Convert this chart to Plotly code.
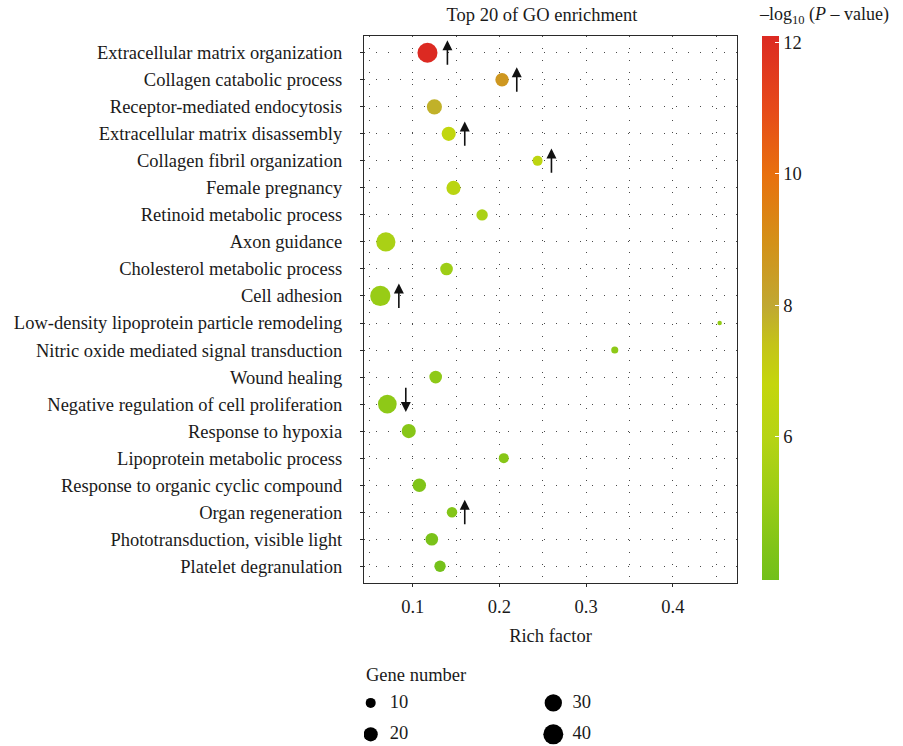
import math
import plotly.graph_objects as go

# ---------------- data ----------------
terms = [
    "Extracellular matrix organization",
    "Collagen catabolic process",
    "Receptor-mediated endocytosis",
    "Extracellular matrix disassembly",
    "Collagen fibril organization",
    "Female pregnancy",
    "Retinoid metabolic process",
    "Axon guidance",
    "Cholesterol metabolic process",
    "Cell adhesion",
    "Low-density lipoprotein particle remodeling",
    "Nitric oxide mediated signal transduction",
    "Wound healing",
    "Negative regulation of cell proliferation",
    "Response to hypoxia",
    "Lipoprotein metabolic process",
    "Response to organic cyclic compound",
    "Organ regeneration",
    "Phototransduction, visible light",
    "Platelet degranulation",
]
rich_factor = [0.117, 0.203, 0.125, 0.1415, 0.244, 0.147, 0.180, 0.069, 0.139, 0.0626,
               0.454, 0.333, 0.1265, 0.0707, 0.0954, 0.205, 0.1076, 0.1453, 0.122, 0.1315]
gene_number = [40, 18, 23, 20, 10, 20, 13, 37, 16, 41,
               2, 5, 16, 35, 20, 10, 18, 11, 16, 13]
neg_log10_p = [12.11, 8.7, 7.8, 6.6, 6.4, 6.2, 5.6, 5.6, 5.2, 5.0,
               4.8, 4.7, 4.7, 4.7, 4.5, 4.5, 4.3, 4.4, 4.1, 3.9]

arrow_terms = ["Extracellular matrix organization", "Collagen catabolic process",
               "Extracellular matrix disassembly", "Collagen fibril organization",
               "Cell adhesion", "Negative regulation of cell proliferation",
               "Organ regeneration"]
arrow_x = [0.14, 0.22, 0.16, 0.26, 0.084, 0.092, 0.16]
arrow_dir = ["up", "up", "up", "up", "up", "down", "up"]

legend_counts = [10, 20, 30, 40]
x_ticks = [0.1, 0.2, 0.3, 0.4]
cbar_ticks = [6, 8, 10, 12]

# ---------------- styling ----------------
FONT = "Liberation Serif"
FS = 18.5
TXT = "#1a1a1a"
W, H = 903, 746
ML, MR, MT, MB = 364, 166, 36, 0
plot_h = H - MT - MB
main_bottom_px = 583
ydom0 = (H - main_bottom_px) / plot_h

CMIN, CMAX = 3.82, 12.11
def t(v):
    return (v - CMIN) / (CMAX - CMIN)

colorscale = [
    [0.0, "#72c01a"],
    [t(4.3), "#80c418"],
    [t(5.0), "#98cc16"],
    [t(6.0), "#b6d414"],
    [t(6.8), "#c4d60c"],
    [t(7.4), "#c4c418"],
    [t(8.0), "#c0a832"],
    [t(9.0), "#d49018"],
    [t(10.0), "#e8700e"],
    [t(11.0), "#e64a1a"],
    [1.0, "#dc2a22"],
]

def diameter(n):
    return math.sqrt(10 * n)

ypos = {term: i for i, term in enumerate(terms)}

fig = go.Figure()

fig.add_trace(go.Scatter(
    x=rich_factor,
    y=[ypos[tm] for tm in terms],
    mode="markers",
    marker=dict(
        size=[diameter(n) for n in gene_number],
        sizemode="diameter",
        color=neg_log10_p,
        colorscale=colorscale,
        cmin=CMIN, cmax=CMAX,
        line=dict(width=0),
        opacity=1,
        colorbar=dict(
            xref="container", x=762 / W, xanchor="left",
            yref="container", y=1 - 37.3 / H, yanchor="top",
            len=544.4, lenmode="pixels",
            thickness=16.5, thicknessmode="pixels",
            xpad=0, ypad=0, outlinewidth=0,
            tickvals=cbar_ticks,
            tickprefix="\u2009\u2009",
            ticks="inside", tickcolor="white", ticklen=4, tickwidth=1,
            tickfont=dict(family=FONT, size=FS, color=TXT),
        ),
    ),
    showlegend=False,
    hoverinfo="skip",
))

# size legend (drawn in its own small axes below the panel)
cols = [i // 2 for i in range(len(legend_counts))]
rows = [i % 2 for i in range(len(legend_counts))]
fig.add_trace(go.Scatter(
    x=cols, y=rows, xaxis="x2", yaxis="y2",
    mode="markers",
    marker=dict(size=[diameter(n) for n in legend_counts], sizemode="diameter",
                color="#000000", opacity=1, line=dict(width=0)),
    showlegend=False, hoverinfo="skip",
))
fig.add_trace(go.Scatter(
    x=[c + 0.105 for c in cols], y=rows, xaxis="x2", yaxis="y2",
    mode="text", text=[str(n) for n in legend_counts],
    textposition="middle right",
    textfont=dict(family=FONT, size=FS, color=TXT),
    showlegend=False, hoverinfo="skip",
))

annotations = []
for term, ax_, d in zip(arrow_terms, arrow_x, arrow_dir):
    r = ypos[term]
    if d == "up":
        tail, tip = r + 0.5, r - 0.46
    else:
        tail, tip = r - 0.66, r + 0.29
    annotations.append(dict(
        x=ax_, y=tip, ax=ax_, ay=tail, xref="x", yref="y", axref="x", ayref="y",
        text="", showarrow=True, arrowhead=2, arrowsize=1.25, arrowwidth=1.6,
        arrowcolor="#111111", standoff=0, startstandoff=0,
    ))

annotations.append(dict(
    text="Gene number", xref="paper", yref="paper",
    x=0, y=(H - 675) / plot_h, xanchor="left", yanchor="middle",
    showarrow=False, font=dict(family=FONT, size=FS, color=TXT),
))
annotations.append(dict(
    text="\u2013log<sub>10</sub> (<i>P</i> \u2013 value)", xref="paper", yref="paper",
    x=(757 - ML) / (W - ML - MR), y=(H - 15) / plot_h, xanchor="left", yanchor="middle",
    showarrow=False, font=dict(family=FONT, size=18, color=TXT),
))

grid_common = dict(gridcolor="#4a4a4a", gridwidth=1.4, griddash="1.4px,10.6px")

fig.update_layout(
    width=W, height=H,
    margin=dict(l=ML, r=MR, t=MT, b=MB, pad=0),
    paper_bgcolor="white", plot_bgcolor="white",
    font=dict(family=FONT, size=FS, color=TXT),
    title=dict(text="Top 20 of GO enrichment", x=542 / W, xanchor="center",
               y=1 - 15 / H, yanchor="middle", yref="container",
               font=dict(family=FONT, size=FS, color=TXT)),
    xaxis=dict(
        range=[0.0438, 0.474], tickvals=x_ticks, ticktext=[str(v) for v in x_ticks],
        showgrid=True, **grid_common,
        minor=dict(tick0=0, dtick=0.05, showgrid=True, ticks="", **grid_common),
        zeroline=False,
        showline=True, linecolor="#2a2a2a", linewidth=1.3, mirror=True,
        ticks="outside", ticklen=3, tickcolor="#2a2a2a",
        ticklabelstandoff=4,
        tickfont=dict(family=FONT, size=FS, color=TXT),
        title=dict(text="Rich factor", standoff=12,
                   font=dict(family=FONT, size=FS, color=TXT)),
        automargin=False,
    ),
    yaxis=dict(
        domain=[ydom0, 1],
        range=[19.62, -0.62],
        tickvals=list(range(len(terms))), ticktext=terms,
        showgrid=True, **grid_common,
        zeroline=False,
        showline=True, linecolor="#2a2a2a", linewidth=1.3, mirror=True,
        ticks="outside", ticklen=3, tickcolor="#2a2a2a",
        ticklabelstandoff=14,
        tickfont=dict(family=FONT, size=FS, color=TXT),
        automargin=False,
    ),
    xaxis2=dict(domain=[0, 1], range=[-0.0367, 2.006], visible=False, anchor="y2"),
    yaxis2=dict(domain=[0, ydom0 - 0.001], range=[1.370, -3.788], visible=False, anchor="x2"),
    annotations=annotations,
)

fig.write_html("out.html", config={"displayModeBar": False},
               post_script="document.body.style.margin='0px';")
